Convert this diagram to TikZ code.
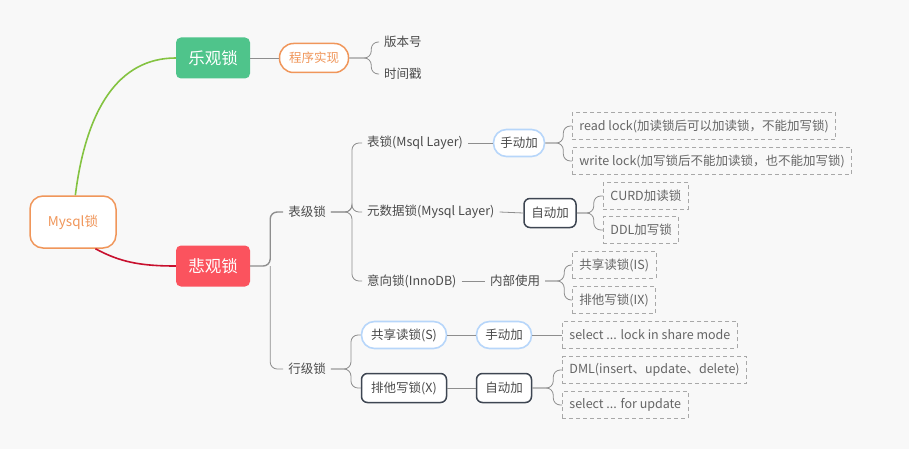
\documentclass[tikz,border=0pt]{standalone}
\usepackage{fontspec}
\setmainfont{Noto Sans CJK SC}
\definecolor{bg}{HTML}{F8F8F8}
\definecolor{txt}{HTML}{4A4A4A}
\definecolor{lgray}{HTML}{8E8E8E}
\definecolor{dgray}{HTML}{A8A8A8}
\definecolor{orng}{HTML}{F0965A}
\definecolor{grn}{HTML}{4FC48B}
\definecolor{rd}{HTML}{FB535E}
\definecolor{gcurve}{HTML}{84C341}
\definecolor{rcurve}{HTML}{C8102E}
\definecolor{bpill}{HTML}{B7D6FA}
\definecolor{kbox}{HTML}{3E4652}
\begin{document}
\begin{tikzpicture}[x=1pt, y=-1pt,
  plain/.style={inner sep=5pt, text=txt, font=\fontsize{12.5}{14}\selectfont},
  root/.style={plain, draw=orng, line width=1.5pt, fill=white, text=orng, rounded corners=13pt, minimum width=86pt, minimum height=52pt, font=\fontsize{13.5}{15}\selectfont},
  main/.style={plain, text=white, rounded corners=5pt, minimum width=74pt, minimum height=41pt, font=\fontsize{16.5}{18}\selectfont},
  opill/.style={plain, draw=orng, line width=1.5pt, fill=white, text=orng, rounded corners=14pt, minimum width=69pt, minimum height=29pt},
  dbox/.style={plain, anchor=west, draw=dgray, dash pattern=on 4pt off 3pt, line width=0.9pt, inner xsep=7pt, minimum height=27pt, text=txt!85},
  blue/.style={plain, draw=bpill, line width=1.6pt, fill=white, rounded corners=13pt, minimum height=27pt},
  dark/.style={plain, draw=kbox, line width=1.5pt, fill=white, rounded corners=6pt, minimum height=29pt},
  lnk/.style={draw=lgray, line width=0.8pt},
  brc/.style={lnk, rounded corners=7pt},
]

%background
\useasboundingbox (0,0) rectangle (909,449);
\fill[bg] (0,0) rectangle (909,449);

%root and first level
\draw
node (mysql) at (73,222) [root] {Mysql锁}
node (opt) at (213,58) [main, fill=grn] {乐观锁}
node (pes) at (213,266) [main, fill=rd] {悲观锁};
\draw[gcurve, line width=1.6pt] (mysql.85) .. controls (86,110) and (118,58) .. (opt.west);
\draw[rcurve, line width=1.6pt] (mysql.-50) .. controls (120,262) and (140,266) .. (pes.west);

%optimistic
\draw
node (prog) at (314,58) [opill] {程序实现}
node (ver) at (379,42) [plain, anchor=west] {版本号}
node (ts) at (379,74) [plain, anchor=west] {时间戳};
\draw[lnk] (opt.east) -- (prog.west);
\draw[brc] (prog.east) -- ++(22,0) |- (ver.west);
\draw[brc] (prog.east) -- ++(22,0) |- (ts.west);

%pessimistic
\draw
node (tbl) at (307,212) [plain] {表级锁}
node (row) at (307,369) [plain] {行级锁};
\draw[brc, line width=1.4pt] (pes.east) -- ++(20,0) |- (tbl.west);
\draw[brc] (pes.east) ++(20,0) |- (row.west);

%table level
\draw
node (tlock) at (362,143) [plain, anchor=west] {表锁(Msql Layer)}
node (meta) at (362,212) [plain, anchor=west] {元数据锁(Mysql Layer)}
node (intent) at (362,281) [plain, anchor=west] {意向锁(InnoDB)};
\draw[brc] (tbl.east) -- ++(21,0) |- (tlock.west);
\draw[brc] (tbl.east) -- ++(21,0) |- (meta.west);
\draw[brc] (tbl.east) -- ++(21,0) |- (intent.west);

\draw
node (man1) at (519,143) [blue, minimum width=51pt] {手动加}
node (rdl) at (572,126) [dbox] {read lock(加读锁后可以加读锁，不能加写锁)}
node (wrl) at (572,161) [dbox] {write lock(加写锁后不能加读锁，也不能加写锁)};
\draw[lnk] (tlock.east) -- (man1.west);
\draw[brc] (man1.east) -- ++(18,0) |- (rdl.west);
\draw[brc] (man1.east) -- ++(18,0) |- (wrl.west);

\draw
node (auto1) at (550,213) [dark, minimum width=52pt] {自动加}
node (curd) at (603,196) [dbox] {CURD加读锁}
node (ddl) at (603,230) [dbox] {DDL加写锁};
\draw[lnk] (meta.east) -- (auto1.west);
\draw[brc] (auto1.east) -- ++(17,0) |- (curd.west);
\draw[brc] (auto1.east) -- ++(17,0) |- (ddl.west);

\draw
node (inner) at (515,281) [plain] {内部使用}
node (is) at (572,265) [dbox] {共享读锁(IS)}
node (ix) at (572,300) [dbox] {排他写锁(IX)};
\draw[lnk] (intent.east) -- (inner.west);
\draw[brc] (inner.east) -- ++(19,0) |- (is.west);
\draw[brc] (inner.east) -- ++(19,0) |- (ix.west);

%row level
\draw
node (sh) at (404,335) [blue, minimum width=85pt] {共享读锁(S)}
node (ex) at (404,388) [dark, minimum width=85pt] {排他写锁(X)};
\draw[brc] (row.east) -- ++(20,0) |- (sh.west);
\draw[brc] (row.east) -- ++(20,0) |- (ex.west);

\draw
node (man2) at (504,335) [blue, minimum width=55pt] {手动加}
node (sel) at (562,335) [dbox] {select ... lock in share mode};
\draw[lnk] (sh.east) -- (man2.west);
\draw[lnk] (man2.east) -- (sel.west);

\draw
node (auto2) at (504,388) [dark, minimum width=55pt] {自动加}
node (dml) at (562,370) [dbox] {DML(insert、update、delete)}
node (upd) at (562,405) [dbox] {select ... for update};
\draw[lnk] (ex.east) -- (auto2.west);
\draw[brc] (auto2.east) -- ++(21,0) |- (dml.west);
\draw[brc] (auto2.east) -- ++(21,0) |- (upd.west);

\end{tikzpicture}
\end{document}
